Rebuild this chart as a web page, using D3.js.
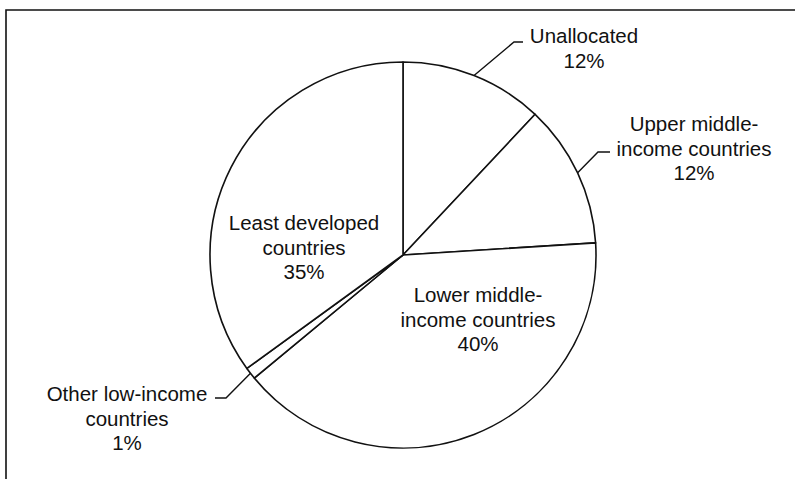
<!DOCTYPE html>
<html>
<head>
<meta charset="utf-8">
<script src="https://cdn.jsdelivr.net/npm/d3@7"></script>
<style>
  html, body { margin: 0; padding: 0; background: #fff; }
  svg { display: block; }
  text { font-family: "Liberation Sans", Arial, Helvetica, sans-serif; fill: #111; }
</style>
</head>
<body>
<svg id="chart" width="795" height="479"></svg>
<script>
// ---- data ----
const categories = [
  "Unallocated",
  "Upper middle-income countries",
  "Lower middle-income countries",
  "Other low-income countries",
  "Least developed countries"
];
const shares = [12, 12, 40, 1, 35];
const labelTexts = [
  ["Unallocated"],
  ["Upper middle-", "income countries"],
  ["Lower middle-", "income countries"],
  ["Other low-income", "countries"],
  ["Least developed", "countries"]
];

// ---- layout ----
const W = 795, H = 479;
const cx = 403, cy = 255, R = 193;
const fontSize = 20.5, lineH = 24.5;
// label anchor (center x, first baseline y), leader elbow/end (null = inside label)
const labelLayout = [
  { x: 584, y: 43,  leader: [[514, 42], [523, 42]] },
  { x: 694, y: 131, leader: [[598, 152], [610, 152]] },
  { x: 478, y: 302, leader: null },
  { x: 127, y: 401, leader: [[226, 398], [215, 398]] },
  { x: 304, y: 230, leader: null }
];

const svg = d3.select("#chart");
svg.append("rect").attr("width", W).attr("height", H).attr("fill", "#fff");

// frame (top and left edges visible)
svg.append("path")
  .attr("d", "M6," + H + " L6,10 L" + W + ",10")
  .attr("fill", "none").attr("stroke", "#111").attr("stroke-width", 1.6);

const pie = d3.pie().sort(null).value(d => d).startAngle(0).endAngle(2 * Math.PI);
const arcs = pie(shares);
const arc = d3.arc().innerRadius(0).outerRadius(R);

const g = svg.append("g").attr("transform", `translate(${cx},${cy})`);
g.selectAll("path.slice")
  .data(arcs)
  .join("path")
  .attr("class", "slice")
  .attr("d", arc)
  .attr("fill", "#fff")
  .attr("stroke", "#111")
  .attr("stroke-width", 1.6)
  .attr("stroke-linejoin", "round");

// leader lines from slice mid-angle on the rim
arcs.forEach((a, i) => {
  const L = labelLayout[i];
  if (!L.leader) return;
  const mid = (a.startAngle + a.endAngle) / 2;
  const sx = cx + R * Math.sin(mid), sy = cy - R * Math.cos(mid);
  const pts = [[sx, sy]].concat(L.leader);
  svg.append("path")
    .attr("d", d3.line()(pts))
    .attr("fill", "none").attr("stroke", "#111").attr("stroke-width", 1.4);
});

// labels
arcs.forEach((a, i) => {
  const L = labelLayout[i];
  const lines = labelTexts[i].concat([shares[i] + "%"]);
  const t = svg.append("text")
    .attr("text-anchor", "middle")
    .attr("font-size", fontSize);
  lines.forEach((s, k) => {
    t.append("tspan").attr("x", L.x).attr("y", L.y + k * lineH).text(s);
  });
});
</script>
</body>
</html>
